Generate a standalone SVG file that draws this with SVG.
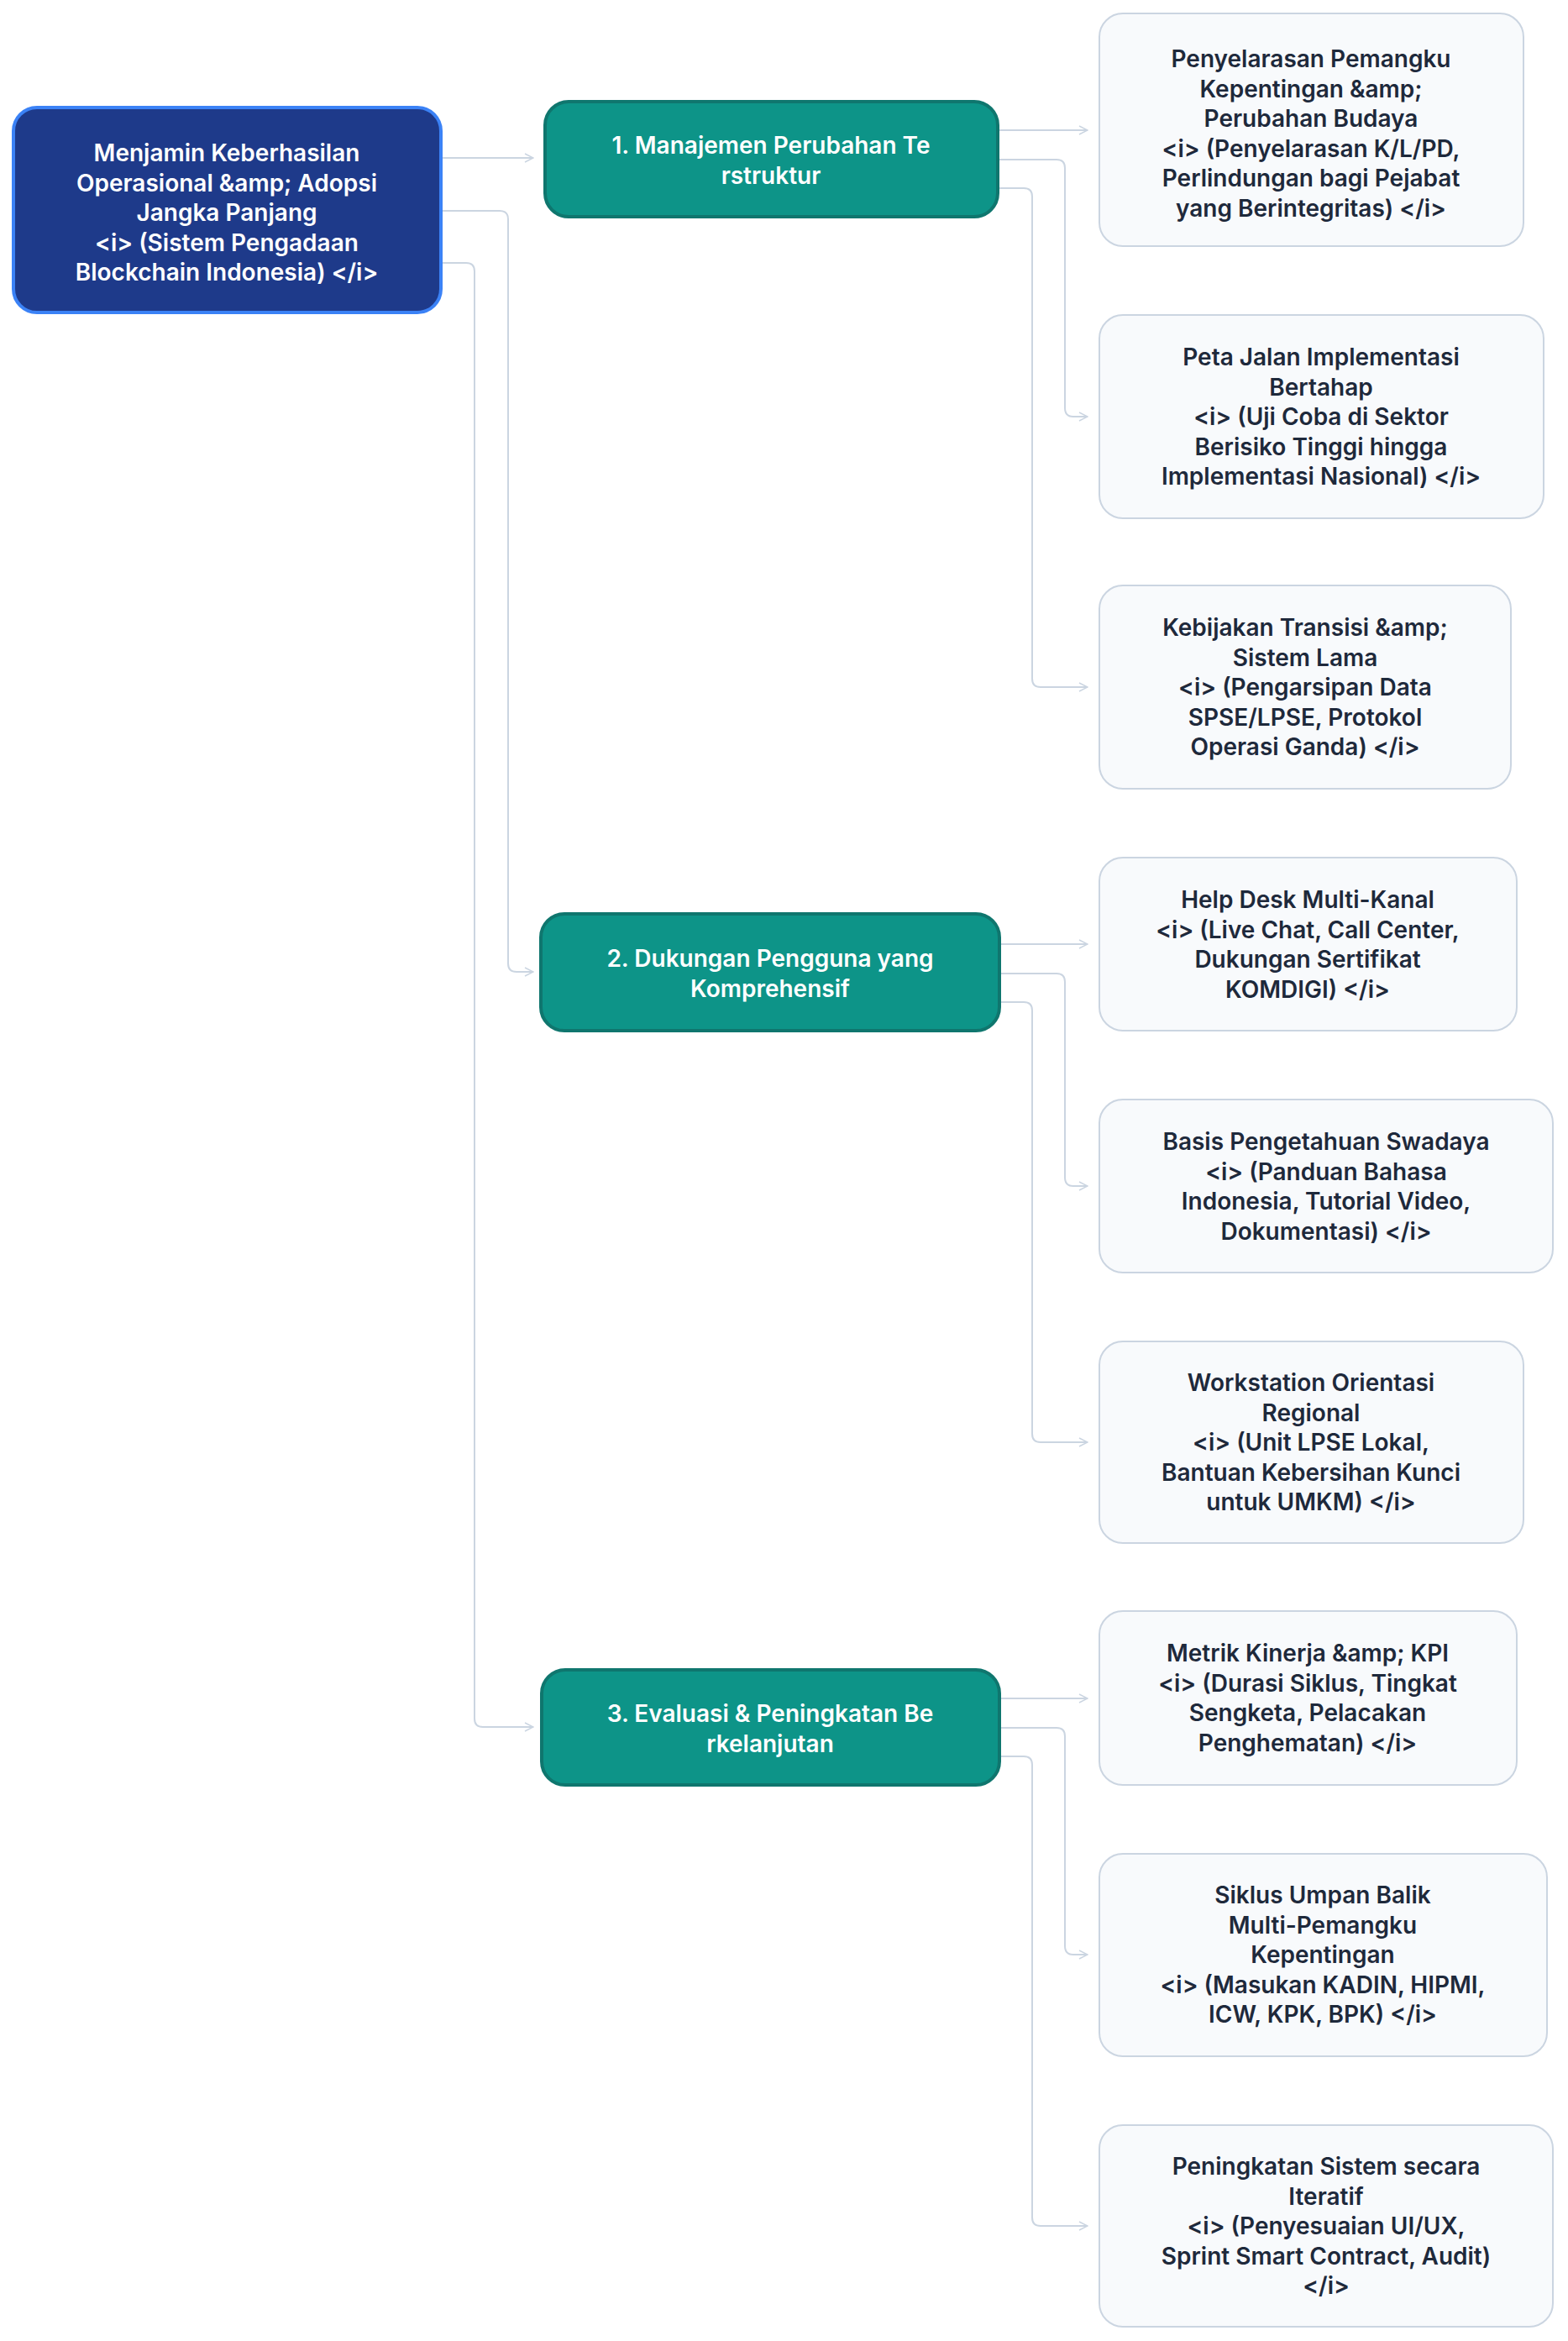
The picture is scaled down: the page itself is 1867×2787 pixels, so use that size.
<svg xmlns="http://www.w3.org/2000/svg" width="1867" height="2787" viewBox="0 0 1867 2787">
<defs>
<style>
.t{font-family:Inter,"Noto Sans","Liberation Sans",sans-serif;font-weight:600;font-size:28px;text-anchor:middle}
.root rect{fill:#1e3a8a;stroke:#3b82f6;stroke-width:4}
.root text{fill:#fff}
.mid rect{fill:#0d9488;stroke:#0f766e;stroke-width:4}
.mid text{fill:#fff}
.leaf rect{fill:#f8fafc;stroke:#cbd5e1;stroke-width:2}
.leaf text{fill:#1e293b}
.c path{fill:none;stroke:#cbd5e1;stroke-width:2;marker-end:url(#a)}
</style>
<marker id="a" viewBox="0 0 12 12" refX="11" refY="6" markerWidth="12" markerHeight="12" markerUnits="userSpaceOnUse" orient="auto"><path d="M1 1 L11 6 L1 11" fill="none" stroke="#cbd5e1" stroke-width="1.5"/></marker>
</defs>
<rect width="1867" height="2787" fill="#fff"/>
<g class="c">
<path d="M525 188 H635"/>
<path d="M525 251 H595 Q605 251 605 261 V1147 Q605 1157 615 1157 H635"/>
<path d="M525 313 H555 Q565 313 565 323 V2046 Q565 2056 575 2056 H635"/>
<path d="M1188 155 H1295"/>
<path d="M1188 190 H1258 Q1268 190 1268 200 V486 Q1268 496 1278 496 H1295"/>
<path d="M1188 224 H1219 Q1229 224 1229 234 V808 Q1229 818 1239 818 H1295"/>
<path d="M1190 1124 H1295"/>
<path d="M1190 1159 H1258 Q1268 1159 1268 1169 V1402 Q1268 1412 1278 1412 H1295"/>
<path d="M1190 1193 H1219 Q1229 1193 1229 1203 V1707 Q1229 1717 1239 1717 H1295"/>
<path d="M1190 2022 H1295"/>
<path d="M1190 2057 H1258 Q1268 2057 1268 2067 V2317 Q1268 2327 1278 2327 H1295"/>
<path d="M1190 2091 H1219 Q1229 2091 1229 2101 V2640 Q1229 2650 1239 2650 H1295"/>
</g>
<g id="root" class="root"><rect x="16" y="128" width="509" height="244" rx="28"/>
<text class="t"><tspan x="270" y="192">Menjamin Keberhasilan</tspan><tspan x="270" y="227.5">Operasional &amp;amp; Adopsi</tspan><tspan x="270" y="263">Jangka Panjang</tspan><tspan x="270" y="298.5">&lt;i&gt; (Sistem Pengadaan</tspan><tspan x="270" y="334">Blockchain Indonesia) &lt;/i&gt;</tspan></text></g>
<g id="m1" class="mid"><rect x="649" y="121" width="539" height="137" rx="28"/>
<text class="t"><tspan x="918" y="183">1. Manajemen Perubahan Te</tspan><tspan x="918" y="218.5">rstruktur</tspan></text></g>
<g id="m2" class="mid"><rect x="644" y="1088" width="546" height="139" rx="28"/>
<text class="t"><tspan x="917" y="1151">2. Dukungan Pengguna yang</tspan><tspan x="917" y="1186.5">Komprehensif</tspan></text></g>
<g id="m3" class="mid"><rect x="645" y="1988" width="545" height="137" rx="28"/>
<text class="t"><tspan x="917" y="2050">3. Evaluasi &amp; Peningkatan Be</tspan><tspan x="917" y="2085.5">rkelanjutan</tspan></text></g>
<g id="l1" class="leaf"><rect x="1309" y="16" width="505" height="277" rx="28"/>
<text class="t"><tspan x="1561" y="80">Penyelarasan Pemangku</tspan><tspan x="1561" y="115.5">Kepentingan &amp;amp;</tspan><tspan x="1561" y="151">Perubahan Budaya</tspan><tspan x="1561" y="186.5">&lt;i&gt; (Penyelarasan K/L/PD,</tspan><tspan x="1561" y="222">Perlindungan bagi Pejabat</tspan><tspan x="1561" y="257.5">yang Berintegritas) &lt;/i&gt;</tspan></text></g>
<g id="l2" class="leaf"><rect x="1309" y="375" width="529" height="242" rx="28"/>
<text class="t"><tspan x="1573" y="435">Peta Jalan Implementasi</tspan><tspan x="1573" y="470.5">Bertahap</tspan><tspan x="1573" y="506">&lt;i&gt; (Uji Coba di Sektor</tspan><tspan x="1573" y="541.5">Berisiko Tinggi hingga</tspan><tspan x="1573" y="577">Implementasi Nasional) &lt;/i&gt;</tspan></text></g>
<g id="l3" class="leaf"><rect x="1309" y="697" width="490" height="242" rx="28"/>
<text class="t"><tspan x="1554" y="757">Kebijakan Transisi &amp;amp;</tspan><tspan x="1554" y="792.5">Sistem Lama</tspan><tspan x="1554" y="828">&lt;i&gt; (Pengarsipan Data</tspan><tspan x="1554" y="863.5">SPSE/LPSE, Protokol</tspan><tspan x="1554" y="899">Operasi Ganda) &lt;/i&gt;</tspan></text></g>
<g id="l4" class="leaf"><rect x="1309" y="1021" width="497" height="206" rx="28"/>
<text class="t"><tspan x="1557" y="1081">Help Desk Multi-Kanal</tspan><tspan x="1557" y="1116.5">&lt;i&gt; (Live Chat, Call Center,</tspan><tspan x="1557" y="1152">Dukungan Sertifikat</tspan><tspan x="1557" y="1187.5">KOMDIGI) &lt;/i&gt;</tspan></text></g>
<g id="l5" class="leaf"><rect x="1309" y="1309" width="540" height="206" rx="28"/>
<text class="t"><tspan x="1579" y="1369">Basis Pengetahuan Swadaya</tspan><tspan x="1579" y="1404.5">&lt;i&gt; (Panduan Bahasa</tspan><tspan x="1579" y="1440">Indonesia, Tutorial Video,</tspan><tspan x="1579" y="1475.5">Dokumentasi) &lt;/i&gt;</tspan></text></g>
<g id="l6" class="leaf"><rect x="1309" y="1597" width="505" height="240" rx="28"/>
<text class="t"><tspan x="1561" y="1656">Workstation Orientasi</tspan><tspan x="1561" y="1691.5">Regional</tspan><tspan x="1561" y="1727">&lt;i&gt; (Unit LPSE Lokal,</tspan><tspan x="1561" y="1762.5">Bantuan Kebersihan Kunci</tspan><tspan x="1561" y="1798">untuk UMKM) &lt;/i&gt;</tspan></text></g>
<g id="l7" class="leaf"><rect x="1309" y="1918" width="497" height="207" rx="28"/>
<text class="t"><tspan x="1557" y="1978">Metrik Kinerja &amp;amp; KPI</tspan><tspan x="1557" y="2013.5">&lt;i&gt; (Durasi Siklus, Tingkat</tspan><tspan x="1557" y="2049">Sengketa, Pelacakan</tspan><tspan x="1557" y="2084.5">Penghematan) &lt;/i&gt;</tspan></text></g>
<g id="l8" class="leaf"><rect x="1309" y="2207" width="533" height="241" rx="28"/>
<text class="t"><tspan x="1575" y="2266">Siklus Umpan Balik</tspan><tspan x="1575" y="2301.5">Multi-Pemangku</tspan><tspan x="1575" y="2337">Kepentingan</tspan><tspan x="1575" y="2372.5">&lt;i&gt; (Masukan KADIN, HIPMI,</tspan><tspan x="1575" y="2408">ICW, KPK, BPK) &lt;/i&gt;</tspan></text></g>
<g id="l9" class="leaf"><rect x="1309" y="2530" width="540" height="240" rx="28"/>
<text class="t"><tspan x="1579" y="2589">Peningkatan Sistem secara</tspan><tspan x="1579" y="2624.5">Iteratif</tspan><tspan x="1579" y="2660">&lt;i&gt; (Penyesuaian UI/UX,</tspan><tspan x="1579" y="2695.5">Sprint Smart Contract, Audit)</tspan><tspan x="1579" y="2731">&lt;/i&gt;</tspan></text></g>
</svg>
